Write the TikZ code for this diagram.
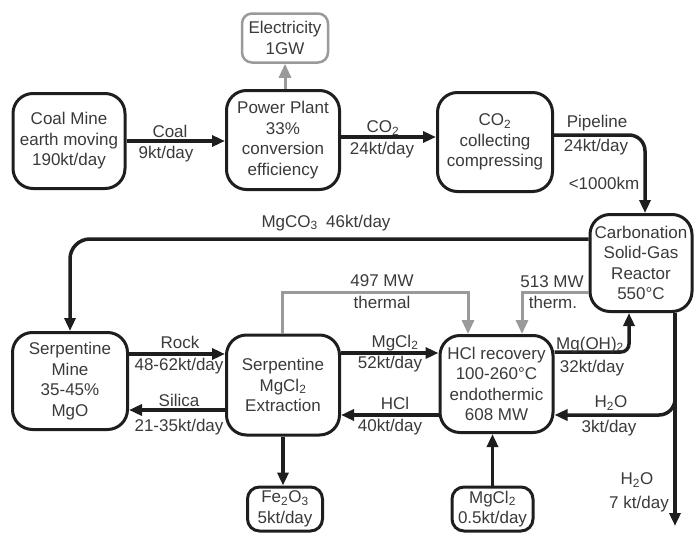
\documentclass[tikz,border=0pt]{standalone}
\usepackage{fontspec}
\setmainfont{Liberation Sans}
\usetikzlibrary{arrows.meta,calc}
\definecolor{txt}{HTML}{3A3A3A}
\definecolor{gry}{HTML}{9A9A9A}
\definecolor{ln}{HTML}{1E1E1E}
\newcommand{\ssub}[1]{\textsubscript{#1}}
\begin{document}
\begin{tikzpicture}[x=1pt,y=-1pt,
  every node/.style={font=\fontsize{17}{20.5}\selectfont, text=txt},
  box/.style={draw=ln, line width=3pt, rounded corners=20pt, align=center, inner sep=0pt},
  gbox/.style={box, draw=gry, line width=2.5pt, rounded corners=10pt},
  sbox/.style={box, rounded corners=12pt},
  flow/.style={line width=3.5pt, draw=ln, -{Triangle[length=13pt,width=11pt]}},
  heat/.style={line width=3pt, draw=gry, -{Triangle[length=14pt,width=12pt]}},
]
\useasboundingbox (0,0) rectangle (694,533);

% boxes
\node[box, minimum width=112pt, minimum height=95pt] (coal) at (69,141) {Coal Mine\\earth moving\\190kt/day};
\node[box, minimum width=113pt, minimum height=99pt] (power) at (283,140) {Power Plant\\33\%\\conversion\\efficiency};
\node[gbox, minimum width=86pt, minimum height=49pt] (elec) at (285,38) {Electricity\\1GW};
\node[box, minimum width=115pt, minimum height=99pt] (co2) at (495,142) {CO\ssub{2}\\collecting\\compressing};
\node[box, minimum width=102pt, minimum height=97pt] (carb) at (641,263) {Carbonation\\Solid-Gas\\Reactor\\550°C};
\node[box, minimum width=115pt, minimum height=97pt] (smine) at (70,381) {Serpentine\\Mine\\35-45\%\\MgO};
\node[box, minimum width=113pt, minimum height=100pt] (extr) at (283,385) {Serpentine\\MgCl\ssub{2}\\Extraction};
\node[box, minimum width=113pt, minimum height=97pt] (hcl) at (496.5,384) {HCl recovery\\100-260°C\\endothermic\\608 MW};
\node[sbox, minimum width=75pt, minimum height=44pt] (fe) at (285,509) {Fe\ssub{2}O\ssub{3}\\5kt/day};
\node[sbox, minimum width=81pt, minimum height=44pt] (mgcl) at (492.5,509) {MgCl\ssub{2}\\0.5kt/day};

% connectors
\draw[heat] (power.north -| elec.south) -- (elec.south);
\draw[flow] (coal.east) -- (coal.east -| power.west);
\draw[flow] ([yshift=3pt]power.east) -- ([yshift=3pt]power.east -| co2.west);
\draw[flow, rounded corners=16pt] ([yshift=7pt]co2.east) -| ([xshift=4pt]carb.north);
\draw[flow, rounded corners=20pt] ([yshift=24pt]carb.west) -| (smine.north);
\draw[flow] ([yshift=27pt]smine.east) -- ([yshift=27pt]smine.east -| extr.west);
\draw[flow] ([yshift=-25pt]extr.west) -- ([yshift=-25pt]extr.west -| smine.east);
\draw[flow] ([yshift=32pt]extr.east) -- ([yshift=32pt]extr.east -| hcl.west);
\draw[flow] ([yshift=-31pt]hcl.west) -- ([yshift=-31pt]hcl.west -| extr.east);
\draw[flow] (extr.south) -- (extr.south |- fe.north);
\draw[flow] (mgcl.north) -- (mgcl.north |- hcl.south);
\draw[flow, rounded corners=8pt] ([yshift=32pt]hcl.east) -| ([xshift=-12pt]carb.south);
\coordinate (h2oend) at (675,526);
\draw[flow] ([xshift=34pt]carb.south) -- (h2oend);
\coordinate (br) at ($(carb.south)+(34,70)$);
\draw[flow, rounded corners=16pt] (br) |- ([yshift=-31pt]hcl.east);
\coordinate (t497) at (282,292);
\draw[heat] (extr.north -| t497) -- (t497) -| ([xshift=-28.5pt]hcl.north);
\draw[heat] ([yshift=-29pt]carb.west) -| ([xshift=25.5pt]hcl.north);

% labels
\node (lCoalA) at (170,131) {Coal};
\node (lCoalB) at (166,154) {9kt/day};
\node (lCO2A) at (383,128) {CO\ssub{2}};
\node (lCO2B) at (382,150) {24kt/day};
\node (lPipeA) at (597,123) {Pipeline};
\node (lPipeB) at (596,147) {24kt/day};
\node (lPipeC) at (604,183) {<1000km};
\node (lMgCO3) at (326,223) {MgCO\ssub{3}\enspace 46kt/day};
\node (l497A) at (382,281) {497 MW};
\node (l497B) at (382,302) {thermal};
\node (l513A) at (552,282) {513 MW};
\node (l513B) at (553,302) {therm.};
\node (lRockA) at (180,342) {Rock};
\node (lRockB) at (179,366) {48-62kt/day};
\node (lSilA) at (179,400) {Silica};
\node (lSilB) at (179,427) {21-35kt/day};
\node (lMgClA) at (395,343) {MgCl\ssub{2}};
\node (lMgClB) at (390,364) {52kt/day};
\node (lHClA) at (395,403) {HCl};
\node (lHClB) at (390,427) {40kt/day};
\node (lMgOHA) at (590,345) {Mg(OH)\ssub{2}};
\node (lMgOHB) at (592,368) {32kt/day};
\node (lH2OA) at (611,403) {H\ssub{2}O};
\node (lH2OB) at (609,428) {3kt/day};
\node (lH2OC) at (637,480) {H\ssub{2}O};
\node (lH2OD) at (639,504) {7 kt/day};
\end{tikzpicture}
\end{document}
